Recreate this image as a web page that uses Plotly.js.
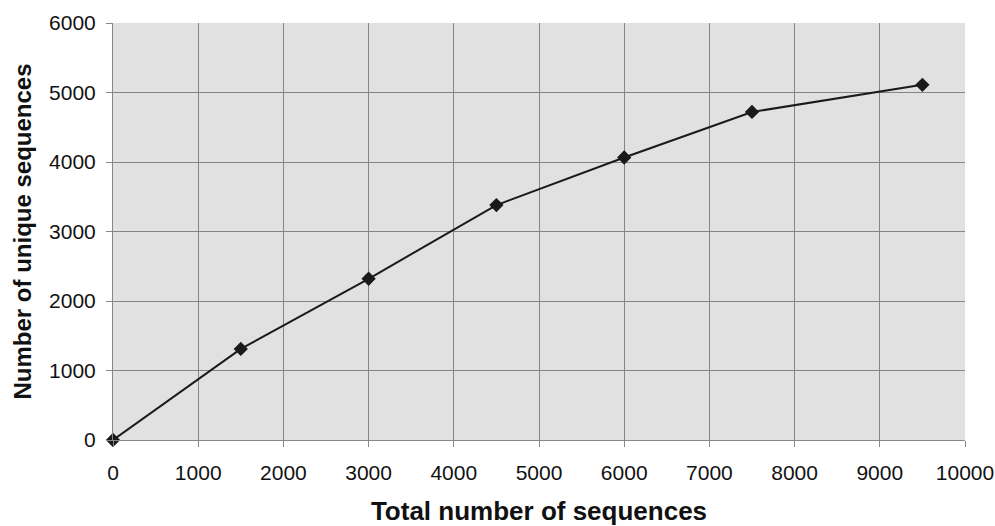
<!DOCTYPE html>
<html>
<head>
<meta charset="utf-8">
<script src="https://cdn.plot.ly/plotly-3.0.1.min.js"></script>
<style>html,body{margin:0;padding:0;background:#fff;}#chart{width:995px;height:526px;}</style>
</head>
<body>
<div id="chart"></div>
<script>
const totalSequences = [0, 1500, 3000, 4500, 6000, 7500, 9500];
const uniqueSequences = [0, 1310, 2320, 3380, 4065, 4720, 5110];
const xTickVals = [0, 1000, 2000, 3000, 4000, 5000, 6000, 7000, 8000, 9000, 10000];
const xTickText = ['0', '1000', '2000', '3000', '4000', '5000', '6000', '7000', '8000', '9000', '10000'];
const yTickVals = [0, 1000, 2000, 3000, 4000, 5000, 6000];
const yTickText = ['0', '1000', '2000', '3000', '4000', '5000', '6000'];

const trace = {
  x: totalSequences,
  y: uniqueSequences,
  type: 'scatter',
  mode: 'lines+markers',
  line: {color: '#1a1a1a', width: 2},
  marker: {symbol: 'diamond', size: 11, color: '#1a1a1a'},
  cliponaxis: false,
  hoverinfo: 'x+y'
};

const layout = {
  width: 995, height: 526,
  margin: {l: 113, r: 30, t: 23, b: 86},
  paper_bgcolor: '#ffffff',
  plot_bgcolor: '#e1e1e1',
  showlegend: false,
  font: {family: 'Liberation Sans, Arial, sans-serif', color: '#111', size: 20},
  xaxis: {
    range: [0, 10000],
    tickvals: xTickVals, ticktext: xTickText,
    ticks: 'outside', ticklen: 6, tickcolor: '#888',
    ticklabelstandoff: 8,
    showgrid: true, gridcolor: '#858585', gridwidth: 1,
    zeroline: false,
    showline: true, linecolor: '#888', linewidth: 1,
    tickfont: {size: 21},
    title: {text: '<b>Total number of sequences</b>', font: {size: 26}, standoff: 20}
  },
  yaxis: {
    range: [0, 6000],
    tickvals: yTickVals, ticktext: yTickText,
    ticks: 'outside', ticklen: 6, tickcolor: '#888',
    ticklabelstandoff: 6,
    showgrid: true, gridcolor: '#858585', gridwidth: 1,
    zeroline: false,
    showline: true, linecolor: '#888', linewidth: 1,
    tickfont: {size: 21},
    title: {text: '<b>Number of unique sequences</b>', font: {size: 24}, standoff: 10}
  }
};

Plotly.newPlot('chart', [trace], layout, {displayModeBar: false, staticPlot: true});
</script>
</body>
</html>
